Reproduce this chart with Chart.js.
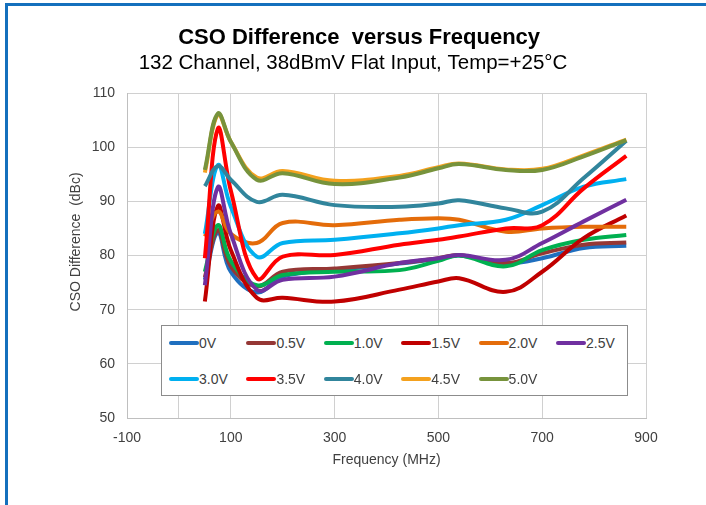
<!DOCTYPE html>
<html>
<head>
<meta charset="utf-8">
<script src="https://cdn.jsdelivr.net/npm/chart.js@4.4.1/dist/chart.umd.min.js"></script>
<style>
  html, body { margin: 0; padding: 0; background: #fff; }
  #wrap { position: relative; width: 706px; height: 505px; overflow: hidden; }
  #frame { position: absolute; left: 5px; top: 3px; right: -10px; bottom: -10px;
           border-top: 3px solid #1470bd; border-left: 3px solid #1470bd; }
  #myChart { position: absolute; left: 0; top: 0; }
  #legend { position: absolute; left: 161px; top: 325px; width: 465px; height: 69px;
            border: 1px solid #8c8c8c; background: #fff;
            font-family: "Liberation Sans", Arial, sans-serif; font-size: 14px; color: #404040; }
  .item { position: absolute; height: 16px; line-height: 16px; white-space: nowrap; }
  .swatch { display: inline-block; width: 30px; height: 4px; border-radius: 2px; vertical-align: middle; margin-top: -2px; }
</style>
</head>
<body>
<div id="wrap">
  <canvas id="myChart" width="706" height="505"></canvas>
  <div id="legend"></div>
  <div id="frame"></div>
</div>
<script>
var freq = [50, 75, 100, 150, 200, 300, 425, 500, 540, 630, 700, 780, 862];
var xTicks = [-100, 0, 100, 300, 500, 700, 900];

var v00 = [75.5, 84.2, 77, 73.2, 76.1, 77.3, 78.5, 79.4, 80.0, 78.6, 79.5, 81.4, 81.8];
var v05 = [76, 84.7, 78, 74.3, 77.0, 77.6, 78.6, 79.5, 80.1, 78.6, 80.4, 82.0, 82.4];
var v10 = [77, 85.6, 79, 74.5, 76.4, 77.0, 77.3, 79.0, 80.0, 78.0, 81.0, 82.9, 83.8];
var v15 = [71.5, 89.1, 81, 72.2, 72.2, 71.5, 73.7, 75.2, 75.8, 73.3, 77.0, 83.2, 87.4];
var v20 = [83.5, 88.1, 84, 82.3, 86.0, 85.6, 86.6, 86.9, 86.6, 84.4, 85.0, 85.3, 85.3];
var v25 = [74.5, 92.6, 84, 73.7, 75.5, 76.1, 78.6, 79.5, 80.1, 79.2, 82.3, 86.3, 90.3];
var v30 = [84, 96.7, 89, 79.8, 82.3, 82.9, 84.1, 85.0, 85.6, 86.6, 89.3, 92.7, 94.1];
var v35 = [79.5, 103.4, 92, 75.8, 79.8, 80.1, 82.0, 82.9, 83.5, 85.0, 85.6, 92.4, 98.4];
var v40 = [92.8, 96.5, 94, 89.9, 91.2, 89.3, 89.0, 89.6, 90.2, 88.7, 88.1, 94.3, 101.2];
var v45 = [95.3, 106.0, 101, 94.4, 95.6, 93.8, 94.7, 96.3, 97.0, 95.9, 96.0, 98.5, 101.4];
var v50 = [95.8, 106.2, 101, 94.0, 95.2, 93.2, 94.4, 96.1, 96.9, 95.8, 95.8, 98.3, 101.3];

var labels = ["0V", "0.5V", "1.0V", "1.5V", "2.0V", "2.5V", "3.0V", "3.5V", "4.0V", "4.5V", "5.0V"];
var values = [v00, v05, v10, v15, v20, v25, v30, v35, v40, v45, v50];
var colors = ["#1f6fbf", "#953735", "#00b050", "#c00000", "#e46c0a", "#7030a0",
              "#00b0f0", "#ff0000", "#31859c", "#f4a11e", "#77933c"];

var FONT = "'Liberation Sans', Arial, sans-serif";

function toPoints(arr) {
  return arr.map(function (y, i) { return { x: freq[i], y: y }; });
}

// later series drawn on top, like the original
var datasets = labels.map(function (name, i) {
  return {
    label: name,
    data: toPoints(values[i]),
    borderColor: colors[i],
    backgroundColor: colors[i],
    borderWidth: 4,
    pointRadius: 0,
    tension: 0.4,
    fill: false,
    order: labels.length - i
  };
});

var ctx = document.getElementById("myChart");
var myChart = new Chart(ctx, {
  type: 'line',
  data: { datasets: datasets },
  options: {
    responsive: false,
    animation: false,
    layout: { padding: { left: 60, right: 60, top: 0, bottom: 36 } },
    plugins: {
      legend: { display: false },
      tooltip: { enabled: false },
      title: {
        display: true,
        text: "\u00a0\u00a0CSO Difference  versus Frequency",
        color: "#000",
        font: { family: FONT, size: 22, weight: 'bold' },
        padding: { top: 25, bottom: 0 }
      },
      subtitle: {
        display: true,
        text: "132 Channel, 38dBmV Flat Input, Temp=+25°C",
        color: "#000",
        font: { family: FONT, size: 20.5 },
        padding: { top: 0, bottom: 17 }
      }
    },
    scales: {
      x: {
        type: 'linear',
        min: -100,
        max: 900,
        afterBuildTicks: function (scale) {
          scale.ticks = xTicks.map(function (v) { return { value: v }; });
        },
        afterFit: function (scale) { scale.height = 51; },
        ticks: {
          color: "#404040",
          font: { family: FONT, size: 14 },
          padding: 12,
          maxRotation: 0,
          autoSkip: false,
          callback: function (v) { return v === 0 ? '' : v; }
        },
        grid: { color: "#d0d0d0", drawTicks: false },
        border: { color: "#bfbfbf" },
        title: {
          display: true,
          text: "Frequency (MHz)",
          color: "#404040",
          font: { family: FONT, size: 14 },
          padding: { top: 8, bottom: 0 }
        }
      },
      y: {
        min: 50,
        max: 110,
        afterFit: function (scale) { scale.width = 67; },
        ticks: {
          stepSize: 10,
          color: "#404040",
          font: { family: FONT, size: 14 },
          padding: 12
        },
        grid: { color: "#d0d0d0", drawTicks: false },
        border: { color: "#bfbfbf" },
        title: {
          display: true,
          text: "\u00a0\u00a0\u00a0\u00a0\u00a0\u00a0\u00a0CSO Difference  (dBc)",
          color: "#404040",
          font: { family: FONT, size: 14 },
          padding: { top: 8, bottom: 0 }
        }
      }
    }
  }
});

// legend inside the plot, two rows of six
var legendBox = document.getElementById("legend");
labels.forEach(function (name, i) {
  var col = i % 6, row = Math.floor(i / 6);
  var item = document.createElement("div");
  item.className = "item";
  item.style.left = (7 + col * 77.4) + "px";
  item.style.top = (9 + row * 36) + "px";
  item.innerHTML = '<span class="swatch" style="background:' + colors[i] + '"></span>' + name;
  legendBox.appendChild(item);
});
</script>
</body>
</html>
